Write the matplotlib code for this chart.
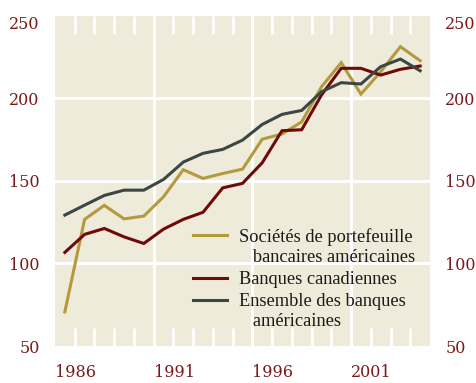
import matplotlib
matplotlib.use("Agg")
import matplotlib.pyplot as plt
from matplotlib.lines import Line2D
import numpy as np

# Annual index values, 1986-2004
years = list(range(1986, 2005))
societes_portefeuille = [70.7, 126.7, 135.2, 127.0, 128.7, 140.4, 156.8, 151.5, 154.5, 157.1,
                         175.3, 178.4, 185.8, 207.0, 221.6, 202.6, 216.1, 231.3, 222.8]
banques_canadiennes = [106.7, 117.6, 121.2, 116.1, 112.1, 120.8, 126.7, 131.0, 145.8, 148.5,
                       161.0, 180.4, 181.0, 202.0, 218.2, 218.2, 214.1, 217.6, 219.6]
ensemble_banques_us = [129.3, 135.3, 141.2, 144.4, 144.4, 150.9, 161.4, 166.7, 169.1, 174.7,
                       184.2, 190.3, 192.7, 204.0, 209.5, 208.7, 219.2, 223.8, 216.7]

series_labels = ["Sociétés de portefeuille\n   bancaires américaines",
                 "Banques canadiennes",
                 "Ensemble des banques\n   américaines"]
year_labels = ["1986", "1991", "1996", "2001"]
y_ticks = [50, 100, 150, 200, 250]

GOLD = "#b39a3c"
RED = "#6e0a0a"
GREY = "#3b4744"
BG = "#efebda"
TICK_COLOR = "#7a1a1a"

fig = plt.figure(figsize=(4.76, 3.83), dpi=100)
ax = fig.add_axes([0.1155, 0.0966, 0.9034 - 0.1155, 0.9587 - 0.0966])
ax.set_facecolor(BG)

x = np.array(years) + 0.5  # mid-year positions
series = [societes_portefeuille, banques_canadiennes, ensemble_banques_us]
colors = [GOLD, RED, GREY]
for vals, col in zip(series, colors):
    ax.plot(x, vals, color=col, lw=2.2, solid_joinstyle="miter", zorder=3)

ax.set_xlim(1986, 2005)
ax.set_ylim(50, 250)

# White grid
for gx in [1991, 1996, 2001]:
    ax.axvline(gx, color="white", lw=2.2, zorder=1)
for gy in [100, 150, 200]:
    ax.axhline(gy, color="white", lw=2.2, zorder=1)

for s in ax.spines.values():
    s.set_visible(False)

# x axis: labels at the start of each 5-year block, white yearly ticks inside
ax.set_xticks([int(v) for v in year_labels])
ax.set_xticklabels(year_labels, ha="left")
ax.set_xticks(years[1:], minor=True)
ax.tick_params(axis="x", which="major", length=0, pad=13, labelsize=11.5,
               labelcolor=TICK_COLOR)
ax.tick_params(axis="x", which="minor", direction="in", length=13, width=2,
               color="white", top=True, bottom=True)
for lab in ax.get_xticklabels():
    lab.set_fontfamily("DejaVu Serif")

# y axis on both sides
ax.set_yticks(y_ticks)
ax.set_yticklabels([str(v) for v in y_ticks])
ax.tick_params(axis="y", which="major", length=0, pad=11, labelsize=11.5,
               labelcolor=TICK_COLOR, left=True, right=True,
               labelleft=True, labelright=True)
for lab in ax.get_yticklabels(which="both"):
    lab.set_fontfamily("DejaVu Serif")
for tick in ax.yaxis.get_major_ticks():
    if tick.get_loc() == 250:
        tick.label1.set_va("top")
        tick.label2.set_va("top")

# Legend drawn by hand: short line + label with hanging indent
legend_rows = [0.336, 0.206, 0.139]
for label, col, yr in zip(series_labels, colors, legend_rows):
    ax.add_line(Line2D([0.368, 0.459], [yr, yr], transform=ax.transAxes,
                       color=col, lw=2.2, zorder=4))
    ax.text(0.491, yr + 0.022, label, transform=ax.transAxes, va="top", ha="left",
            fontsize=13.2, family="Liberation Serif", color="#1a1a1a",
            linespacing=1.22, zorder=4)

fig.savefig("out.png", dpi=100)
